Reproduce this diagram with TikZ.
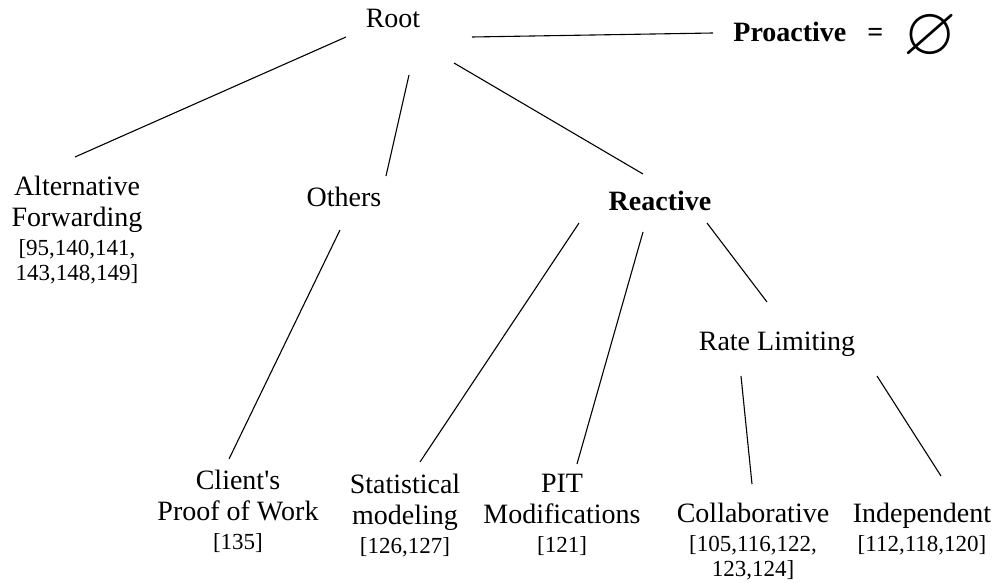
\documentclass[tikz,border=0pt]{standalone}
\usepackage{fontspec}
\usepackage{amssymb}
\setmainfont{Liberation Serif}
\newcommand{\cit}[1]{{\fontsize{11.5}{12.5}\selectfont #1}}

\begin{document}
\begin{tikzpicture}[x=0.5pt,y=-0.5pt,
    every node/.style={inner sep=0pt, anchor=north, align=center, font=\fontsize{14}{15.5}\selectfont},
    link/.style={line width=0.55pt}]
    \useasboundingbox (0,0) rectangle (1003,583);

    \node (root) at (393,9) {Root};
    \node[anchor=base west] (pro) at (733,42) {\textbf{Proactive}\hspace{10.5pt}\textbf{=}\hspace{10pt}\raisebox{-6.2pt}{\scalebox{2.45}{$\varnothing$}}};
    \node (alt) at (77,176) {Alternative\\Forwarding\\[-1pt]\cit{[95,140,141,}\\[-3pt]\cit{143,148,149]}};
    \node (others) at (344,187) {Others};
    \node (reactive) at (660,191) {\textbf{Reactive}};
    \node (rate) at (777,332) {Rate Limiting};
    \node (client) at (238,470) {Client\textquotesingle s\\Proof of Work\\[-1pt]\cit{[135]}};
    \node (stat) at (405,474) {Statistical\\modeling\\[-1pt]\cit{[126,127]}};
    \node (pit) at (562,474) {PIT\\Modifications\\[-1pt]\cit{[121]}};
    \node (collab) at (753,503) {Collaborative\\[-1pt]\cit{[105,116,122,}\\[-3pt]\cit{123,124]}};
    \node (indep) at (922,503) {Independent\\[-1pt]\cit{[112,118,120]}};

    \draw[link] ([shift={(-47,28)}]root.north) -- ([shift={(-2,-19)}]alt.north);
    \draw[link] ([shift={(16,66)}]root.north) -- ([shift={(42,-11)}]others.north);
    \draw[link] ([shift={(61,54)}]root.north) -- ([shift={(-17,-17)}]reactive.north);
    \draw[link] ([shift={(79,28)}]root.north) -- ([shift={(-20,-9)}]pro.base west);
    \draw[link] ([shift={(-4,43)}]others.north) -- ([shift={(-9,-11)}]client.north);
    \draw[link] ([shift={(-81,32)}]reactive.north) -- ([shift={(15,-12)}]stat.north);
    \draw[link] ([shift={(-17,41)}]reactive.north) -- ([shift={(15,-10)}]pit.north);
    \draw[link] ([shift={(47,32)}]reactive.north) -- ([shift={(-10,-30)}]rate.north);
    \draw[link] ([shift={(-36,44)}]rate.north) -- ([shift={(-1,-19)}]collab.north);
    \draw[link] ([shift={(100,44)}]rate.north) -- ([shift={(19,-27)}]indep.north);
\end{tikzpicture}
\end{document}
